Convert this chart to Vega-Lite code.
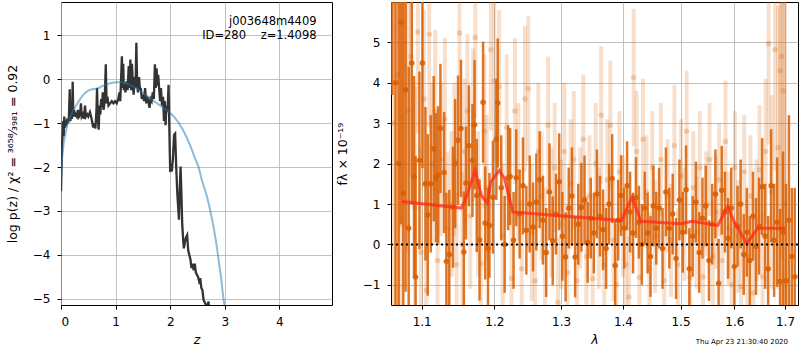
{
  "$schema": "https://vega.github.io/schema/vega-lite/v6.json",
  "background": "white",
  "padding": {"left": 5, "top": 1, "right": 0, "bottom": 0},
  "spacing": 59,
  "bounds": "flush",
  "config": {
    "font": "DejaVu Sans",
    "view": {"stroke": "black", "strokeWidth": 1},
    "axis": {
      "grid": true, "gridColor": "#b0b0b0", "gridWidth": 0.8, "domain": false,
      "tickColor": "black", "tickSize": 4, "labelPadding": 7,
      "labelFontSize": 12, "labelColor": "black",
      "titleFontSize": 12.5, "titleFontWeight": "normal", "titleColor": "black"
    }
  },
  "datasets": {
    "pz": [
      {"z": 0.000, "lp": -2.55}, {"z": 0.010, "lp": -2.0}, {"z": 0.020, "lp": -1.45}, {"z": 0.030, "lp": -1.25},
      {"z": 0.040, "lp": -0.95}, {"z": 0.050, "lp": -1.3}, {"z": 0.060, "lp": -0.85}, {"z": 0.075, "lp": -1.1},
      {"z": 0.090, "lp": -0.95}, {"z": 0.100, "lp": -1.05}, {"z": 0.115, "lp": -0.9}, {"z": 0.130, "lp": -1.0},
      {"z": 0.145, "lp": -0.85}, {"z": 0.160, "lp": -0.23}, {"z": 0.170, "lp": -0.95}, {"z": 0.185, "lp": -0.85},
      {"z": 0.200, "lp": -0.9}, {"z": 0.214, "lp": -0.06}, {"z": 0.225, "lp": -0.85}, {"z": 0.240, "lp": -0.7},
      {"z": 0.255, "lp": -0.85}, {"z": 0.270, "lp": -0.8}, {"z": 0.290, "lp": -0.85}, {"z": 0.310, "lp": -0.7},
      {"z": 0.330, "lp": -0.85}, {"z": 0.350, "lp": -0.8}, {"z": 0.365, "lp": -0.55}, {"z": 0.380, "lp": -0.85},
      {"z": 0.400, "lp": -0.8}, {"z": 0.420, "lp": -0.9}, {"z": 0.440, "lp": -0.6}, {"z": 0.455, "lp": -0.85},
      {"z": 0.480, "lp": -0.8}, {"z": 0.500, "lp": -0.85}, {"z": 0.530, "lp": -0.75}, {"z": 0.560, "lp": -0.9},
      {"z": 0.590, "lp": -1.1}, {"z": 0.610, "lp": -1.0}, {"z": 0.630, "lp": -1.12}, {"z": 0.650, "lp": -0.7},
      {"z": 0.660, "lp": -0.2}, {"z": 0.675, "lp": -0.9}, {"z": 0.690, "lp": -1.15}, {"z": 0.705, "lp": -0.6},
      {"z": 0.720, "lp": -0.8}, {"z": 0.735, "lp": -0.45}, {"z": 0.750, "lp": -0.65}, {"z": 0.765, "lp": -0.3},
      {"z": 0.780, "lp": -0.7}, {"z": 0.800, "lp": -0.5}, {"z": 0.820, "lp": 0.34}, {"z": 0.835, "lp": -0.55},
      {"z": 0.850, "lp": -0.4}, {"z": 0.870, "lp": -0.6}, {"z": 0.900, "lp": -0.55}, {"z": 0.930, "lp": -0.5},
      {"z": 0.960, "lp": -0.55}, {"z": 0.990, "lp": -0.5}, {"z": 1.020, "lp": -0.55}, {"z": 1.050, "lp": -0.45},
      {"z": 1.070, "lp": -0.3}, {"z": 1.085, "lp": -0.5}, {"z": 1.100, "lp": 0.0}, {"z": 1.115, "lp": 0.52},
      {"z": 1.125, "lp": -0.2}, {"z": 1.140, "lp": 0.35}, {"z": 1.150, "lp": -0.25}, {"z": 1.165, "lp": -0.1},
      {"z": 1.180, "lp": -0.3}, {"z": 1.200, "lp": -0.05}, {"z": 1.220, "lp": -0.25}, {"z": 1.240, "lp": 0.3},
      {"z": 1.255, "lp": -0.2}, {"z": 1.270, "lp": 0.45}, {"z": 1.285, "lp": -0.25}, {"z": 1.300, "lp": 0.35},
      {"z": 1.315, "lp": -0.1}, {"z": 1.330, "lp": -0.35}, {"z": 1.350, "lp": 0.05}, {"z": 1.365, "lp": -0.2},
      {"z": 1.380, "lp": 0.83}, {"z": 1.395, "lp": -0.15}, {"z": 1.410, "lp": -0.3}, {"z": 1.430, "lp": 0.05},
      {"z": 1.445, "lp": -0.25}, {"z": 1.460, "lp": -0.2}, {"z": 1.480, "lp": -0.45}, {"z": 1.500, "lp": -0.35},
      {"z": 1.520, "lp": -0.5}, {"z": 1.540, "lp": -0.2}, {"z": 1.560, "lp": -0.55}, {"z": 1.580, "lp": -0.4},
      {"z": 1.600, "lp": -0.5}, {"z": 1.620, "lp": -0.65}, {"z": 1.640, "lp": -0.45}, {"z": 1.660, "lp": -0.5},
      {"z": 1.680, "lp": -0.3}, {"z": 1.700, "lp": -0.45}, {"z": 1.720, "lp": 0.34}, {"z": 1.735, "lp": -0.2},
      {"z": 1.750, "lp": 0.25}, {"z": 1.765, "lp": -0.15}, {"z": 1.780, "lp": 0.1}, {"z": 1.800, "lp": -0.25},
      {"z": 1.815, "lp": -0.5}, {"z": 1.830, "lp": -0.2}, {"z": 1.850, "lp": -0.6}, {"z": 1.870, "lp": -0.4},
      {"z": 1.885, "lp": -0.95}, {"z": 1.900, "lp": -0.5}, {"z": 1.915, "lp": -1.05}, {"z": 1.930, "lp": -0.6},
      {"z": 1.950, "lp": -0.75}, {"z": 1.970, "lp": -0.13}, {"z": 1.985, "lp": -1.2}, {"z": 2.000, "lp": -2.11},
      {"z": 2.015, "lp": -2.05}, {"z": 2.030, "lp": -2.1}, {"z": 2.050, "lp": -1.8}, {"z": 2.070, "lp": -1.27},
      {"z": 2.090, "lp": -1.24}, {"z": 2.110, "lp": -2.0}, {"z": 2.130, "lp": -2.6}, {"z": 2.150, "lp": -3.0},
      {"z": 2.160, "lp": -3.2}, {"z": 2.175, "lp": -2.5}, {"z": 2.190, "lp": -1.99}, {"z": 2.205, "lp": -2.6},
      {"z": 2.220, "lp": -3.3}, {"z": 2.240, "lp": -3.7}, {"z": 2.250, "lp": -3.85}, {"z": 2.270, "lp": -3.7},
      {"z": 2.290, "lp": -3.6}, {"z": 2.310, "lp": -3.55}, {"z": 2.330, "lp": -3.9}, {"z": 2.350, "lp": -4.0},
      {"z": 2.370, "lp": -4.1}, {"z": 2.390, "lp": -4.3}, {"z": 2.410, "lp": -4.2}, {"z": 2.430, "lp": -4.35},
      {"z": 2.450, "lp": -4.2}, {"z": 2.470, "lp": -4.4}, {"z": 2.490, "lp": -4.45}, {"z": 2.510, "lp": -4.5},
      {"z": 2.530, "lp": -4.6}, {"z": 2.550, "lp": -4.53}, {"z": 2.570, "lp": -4.75}, {"z": 2.590, "lp": -4.8},
      {"z": 2.610, "lp": -5.02}, {"z": 2.640, "lp": -5.1}, {"z": 2.680, "lp": -5.2}, {"z": 2.700, "lp": -5.06},
      {"z": 2.720, "lp": -5.3}
    ],
    "prior": [
      {"z": 0.00, "lp": -2.34}, {"z": 0.02, "lp": -1.8}, {"z": 0.05, "lp": -1.45}, {"z": 0.08, "lp": -1.25},
      {"z": 0.12, "lp": -1.02}, {"z": 0.17, "lp": -0.85}, {"z": 0.23, "lp": -0.7}, {"z": 0.29, "lp": -0.57},
      {"z": 0.35, "lp": -0.45}, {"z": 0.42, "lp": -0.34}, {"z": 0.48, "lp": -0.27}, {"z": 0.54, "lp": -0.24},
      {"z": 0.62, "lp": -0.22}, {"z": 0.69, "lp": -0.2}, {"z": 0.75, "lp": -0.16}, {"z": 0.81, "lp": -0.13},
      {"z": 0.88, "lp": -0.1}, {"z": 0.94, "lp": -0.08}, {"z": 1.03, "lp": -0.07}, {"z": 1.12, "lp": -0.07},
      {"z": 1.21, "lp": -0.1}, {"z": 1.30, "lp": -0.15}, {"z": 1.39, "lp": -0.21}, {"z": 1.48, "lp": -0.29},
      {"z": 1.57, "lp": -0.38}, {"z": 1.67, "lp": -0.47}, {"z": 1.76, "lp": -0.55}, {"z": 1.85, "lp": -0.63},
      {"z": 1.93, "lp": -0.7}, {"z": 2.00, "lp": -0.77}, {"z": 2.08, "lp": -0.87}, {"z": 2.16, "lp": -1.0},
      {"z": 2.24, "lp": -1.17}, {"z": 2.31, "lp": -1.35}, {"z": 2.38, "lp": -1.55}, {"z": 2.46, "lp": -1.82},
      {"z": 2.52, "lp": -2.0}, {"z": 2.58, "lp": -2.3}, {"z": 2.63, "lp": -2.5}, {"z": 2.67, "lp": -2.66},
      {"z": 2.71, "lp": -2.86}, {"z": 2.76, "lp": -3.15}, {"z": 2.80, "lp": -3.4}, {"z": 2.84, "lp": -3.7},
      {"z": 2.89, "lp": -4.15}, {"z": 2.93, "lp": -4.5}, {"z": 2.97, "lp": -4.95}, {"z": 3.00, "lp": -5.2},
      {"z": 3.02, "lp": -5.45}
    ],
    "light": [
      {"w": 1.064, "f": 3.0, "e": 8}, {"w": 1.069, "f": 4.2, "e": 6}, {"w": 1.073, "f": 0.5, "e": 6},
      {"w": 1.078, "f": 4.4, "e": 4}, {"w": 1.082, "f": 3.3, "e": 3.5}, {"w": 1.086, "f": 4.65, "e": 3},
      {"w": 1.091, "f": 0.9, "e": 3}, {"w": 1.095, "f": 5.26, "e": 2.5}, {"w": 1.099, "f": -0.2, "e": 2.6},
      {"w": 1.103, "f": 3.6, "e": 2.2}, {"w": 1.106, "f": -1.14, "e": 2.2}, {"w": 1.110, "f": 5.2, "e": 2.3},
      {"w": 1.114, "f": 2.0, "e": 2.0}, {"w": 1.118, "f": 3.3, "e": 2.0}, {"w": 1.121, "f": -0.4, "e": 2.0},
      {"w": 1.126, "f": 2.1, "e": 1.9}, {"w": 1.131, "f": 3.1, "e": 2.0}, {"w": 1.135, "f": 0.4, "e": 1.9},
      {"w": 1.140, "f": 1.0, "e": 1.8}, {"w": 1.144, "f": 2.1, "e": 1.9}, {"w": 1.147, "f": -0.5, "e": 1.8},
      {"w": 1.151, "f": 5.23, "e": 2.2}, {"w": 1.155, "f": 0.0, "e": 1.8}, {"w": 1.158, "f": 2.3, "e": 1.8},
      {"w": 1.162, "f": 3.3, "e": 1.9}, {"w": 1.166, "f": 0.7, "e": 1.8}, {"w": 1.170, "f": 2.95, "e": 1.9},
      {"w": 1.173, "f": 5.12, "e": 2.0}, {"w": 1.177, "f": 1.0, "e": 1.8}, {"w": 1.181, "f": -0.47, "e": 1.8},
      {"w": 1.186, "f": 2.8, "e": 1.9}, {"w": 1.189, "f": 1.4, "e": 1.8}, {"w": 1.195, "f": 4.82, "e": 2.0},
      {"w": 1.200, "f": 4.05, "e": 2.0}, {"w": 1.207, "f": 3.9, "e": 1.9}, {"w": 1.212, "f": 0.2, "e": 1.8},
      {"w": 1.218, "f": 2.9, "e": 1.8}, {"w": 1.225, "f": -0.84, "e": 1.7}, {"w": 1.230, "f": 3.3, "e": 1.8},
      {"w": 1.235, "f": 1.8, "e": 1.7}, {"w": 1.240, "f": -0.6, "e": 1.7}, {"w": 1.245, "f": 3.6, "e": 1.8},
      {"w": 1.250, "f": 3.85, "e": 1.8}, {"w": 1.255, "f": 0.3, "e": 1.7}, {"w": 1.260, "f": -0.9, "e": 1.6},
      {"w": 1.265, "f": 2.3, "e": 1.7}, {"w": 1.270, "f": 1.2, "e": 1.6}, {"w": 1.275, "f": -0.2, "e": 1.6},
      {"w": 1.280, "f": 2.95, "e": 1.7}, {"w": 1.285, "f": 0.8, "e": 1.6}, {"w": 1.290, "f": 1.9, "e": 1.6},
      {"w": 1.295, "f": -1.43, "e": 1.6}, {"w": 1.300, "f": 0.5, "e": 1.6}, {"w": 1.305, "f": 2.3, "e": 1.7},
      {"w": 1.310, "f": -0.7, "e": 1.6}, {"w": 1.315, "f": 1.5, "e": 1.6}, {"w": 1.320, "f": 2.1, "e": 1.7},
      {"w": 1.325, "f": -0.9, "e": 1.6}, {"w": 1.330, "f": 0.9, "e": 1.5}, {"w": 1.335, "f": 2.6, "e": 1.6},
      {"w": 1.340, "f": -0.3, "e": 1.5}, {"w": 1.345, "f": 1.2, "e": 1.5}, {"w": 1.350, "f": -0.85, "e": 1.5},
      {"w": 1.355, "f": 2.0, "e": 1.5}, {"w": 1.360, "f": 0.4, "e": 1.5}, {"w": 1.364, "f": 3.2, "e": 1.7},
      {"w": 1.369, "f": -0.5, "e": 1.5}, {"w": 1.374, "f": 1.6, "e": 1.5}, {"w": 1.379, "f": 2.95, "e": 1.6},
      {"w": 1.384, "f": 0.1, "e": 1.5}, {"w": 1.389, "f": -1.0, "e": 1.5}, {"w": 1.394, "f": 1.8, "e": 1.5},
      {"w": 1.400, "f": 0.7, "e": 1.5}, {"w": 1.405, "f": -0.5, "e": 1.4}, {"w": 1.410, "f": -1.3, "e": 1.5},
      {"w": 1.418, "f": 4.13, "e": 1.7}, {"w": 1.423, "f": 2.3, "e": 1.5}, {"w": 1.428, "f": -0.82, "e": 1.4},
      {"w": 1.434, "f": 2.6, "e": 1.5}, {"w": 1.440, "f": 1.3, "e": 1.4}, {"w": 1.445, "f": -0.6, "e": 1.4},
      {"w": 1.450, "f": 1.9, "e": 1.4}, {"w": 1.455, "f": 0.2, "e": 1.4}, {"w": 1.465, "f": 2.1, "e": 1.4},
      {"w": 1.471, "f": -0.9, "e": 1.4}, {"w": 1.477, "f": 1.2, "e": 1.4}, {"w": 1.483, "f": 0.1, "e": 1.4},
      {"w": 1.489, "f": 2.45, "e": 1.5}, {"w": 1.495, "f": -0.5, "e": 1.4}, {"w": 1.501, "f": 1.7, "e": 1.4},
      {"w": 1.507, "f": 0.5, "e": 1.4}, {"w": 1.511, "f": 2.8, "e": 1.5}, {"w": 1.517, "f": -0.82, "e": 1.4},
      {"w": 1.523, "f": 1.4, "e": 1.4}, {"w": 1.529, "f": 0.3, "e": 1.4}, {"w": 1.535, "f": 1.9, "e": 1.4},
      {"w": 1.541, "f": -0.8, "e": 1.4}, {"w": 1.547, "f": 1.0, "e": 1.3}, {"w": 1.553, "f": 2.1, "e": 1.4},
      {"w": 1.559, "f": -0.3, "e": 1.4}, {"w": 1.565, "f": 0.8, "e": 1.4}, {"w": 1.571, "f": 1.6, "e": 1.4},
      {"w": 1.577, "f": -0.4, "e": 1.3}, {"w": 1.583, "f": 2.55, "e": 1.5}, {"w": 1.589, "f": 0.4, "e": 1.4},
      {"w": 1.595, "f": -1.0, "e": 1.4}, {"w": 1.601, "f": 1.9, "e": 1.4}, {"w": 1.607, "f": 0.2, "e": 1.4},
      {"w": 1.613, "f": -1.05, "e": 1.4}, {"w": 1.619, "f": 1.8, "e": 1.4}, {"w": 1.625, "f": -0.3, "e": 1.4},
      {"w": 1.631, "f": 1.2, "e": 1.5}, {"w": 1.637, "f": -1.2, "e": 1.5}, {"w": 1.643, "f": 0.6, "e": 1.5},
      {"w": 1.649, "f": 1.85, "e": 1.6}, {"w": 1.655, "f": -0.8, "e": 1.6}, {"w": 1.661, "f": 2.3, "e": 1.8},
      {"w": 1.667, "f": 4.97, "e": 2.5}, {"w": 1.673, "f": 1.3, "e": 2.4}, {"w": 1.680, "f": 4.82, "e": 3},
      {"w": 1.686, "f": 2.4, "e": 3.5}, {"w": 1.690, "f": 4.3, "e": 4}, {"w": 1.693, "f": 4.65, "e": 5},
      {"w": 1.696, "f": 3.8, "e": 6}, {"w": 1.700, "f": 1.0, "e": 7}
    ],
    "dark": [
      {"w": 1.062, "f": 8.0, "e": 4.3}, {"w": 1.066, "f": 4.0, "e": 7.0}, {"w": 1.070, "f": 2.0, "e": 7.5},
      {"w": 1.073, "f": 5.5, "e": 5.0}, {"w": 1.076, "f": 1.27, "e": 5.5}, {"w": 1.079, "f": 3.83, "e": 5.0},
      {"w": 1.083, "f": 0.4, "e": 4.0}, {"w": 1.087, "f": 4.49, "e": 3.5}, {"w": 1.090, "f": 1.67, "e": 2.5},
      {"w": 1.092, "f": -0.81, "e": 3.0}, {"w": 1.097, "f": 2.08, "e": 2.2}, {"w": 1.101, "f": 4.49, "e": 2.6},
      {"w": 1.105, "f": 1.50, "e": 1.9}, {"w": 1.108, "f": 0.73, "e": 2.0}, {"w": 1.112, "f": 1.50, "e": 1.7},
      {"w": 1.116, "f": 2.37, "e": 1.8}, {"w": 1.119, "f": 1.65, "e": 1.6}, {"w": 1.122, "f": 1.72, "e": 1.7},
      {"w": 1.125, "f": 2.87, "e": 1.6}, {"w": 1.130, "f": 1.78, "e": 1.5}, {"w": 1.133, "f": -0.42, "e": 1.7},
      {"w": 1.137, "f": -0.25, "e": 1.6}, {"w": 1.142, "f": 0.92, "e": 1.5}, {"w": 1.145, "f": 2.0, "e": 1.6},
      {"w": 1.149, "f": 2.58, "e": 1.6}, {"w": 1.153, "f": 2.87, "e": 1.7}, {"w": 1.157, "f": -0.19, "e": 1.5},
      {"w": 1.160, "f": 1.52, "e": 1.4}, {"w": 1.164, "f": 2.44, "e": 1.5}, {"w": 1.169, "f": 2.08, "e": 1.4},
      {"w": 1.172, "f": 2.96, "e": 1.6}, {"w": 1.175, "f": 1.21, "e": 1.4}, {"w": 1.179, "f": 0.11, "e": 1.5},
      {"w": 1.184, "f": 3.52, "e": 1.5}, {"w": 1.187, "f": 0.53, "e": 1.4}, {"w": 1.191, "f": -0.10, "e": 1.5},
      {"w": 1.193, "f": 0.47, "e": 1.3}, {"w": 1.198, "f": 1.17, "e": 1.4}, {"w": 1.203, "f": 2.60, "e": 1.5},
      {"w": 1.205, "f": 3.50, "e": 1.6}, {"w": 1.210, "f": 1.40, "e": 1.3}, {"w": 1.215, "f": 0.00, "e": 1.2},
      {"w": 1.220, "f": 1.65, "e": 1.3}, {"w": 1.223, "f": 1.68, "e": 1.2}, {"w": 1.228, "f": 0.10, "e": 1.2},
      {"w": 1.232, "f": 1.65, "e": 1.2}, {"w": 1.237, "f": 0.75, "e": 1.1}, {"w": 1.242, "f": 1.45, "e": 1.2},
      {"w": 1.247, "f": 0.35, "e": 1.1}, {"w": 1.252, "f": 1.0, "e": 1.2}, {"w": 1.257, "f": 0.43, "e": 1.1},
      {"w": 1.262, "f": 1.05, "e": 1.2}, {"w": 1.267, "f": 1.6, "e": 1.2}, {"w": 1.272, "f": 0.6, "e": 1.1},
      {"w": 1.277, "f": -0.2, "e": 1.1}, {"w": 1.282, "f": 1.3, "e": 1.2}, {"w": 1.287, "f": 0.09, "e": 1.1},
      {"w": 1.292, "f": 0.75, "e": 1.0}, {"w": 1.297, "f": 1.55, "e": 1.2}, {"w": 1.302, "f": 0.2, "e": 1.1},
      {"w": 1.307, "f": -0.31, "e": 1.1}, {"w": 1.312, "f": 0.9, "e": 1.0}, {"w": 1.317, "f": 1.2, "e": 1.2},
      {"w": 1.322, "f": -0.31, "e": 1.0}, {"w": 1.327, "f": 0.5, "e": 1.0}, {"w": 1.332, "f": 0.92, "e": 1.1},
      {"w": 1.337, "f": 1.1, "e": 1.1}, {"w": 1.342, "f": 0.05, "e": 1.0}, {"w": 1.347, "f": 0.65, "e": 1.0},
      {"w": 1.352, "f": 0.28, "e": 1.0}, {"w": 1.357, "f": 1.25, "e": 1.1}, {"w": 1.362, "f": 0.7, "e": 1.0},
      {"w": 1.367, "f": 0.36, "e": 1.0}, {"w": 1.372, "f": -0.1, "e": 1.0}, {"w": 1.377, "f": 1.0, "e": 1.0},
      {"w": 1.382, "f": 1.63, "e": 1.1}, {"w": 1.387, "f": -0.52, "e": 1.1}, {"w": 1.392, "f": 0.6, "e": 1.0},
      {"w": 1.397, "f": 1.21, "e": 1.0}, {"w": 1.402, "f": 0.4, "e": 1.0}, {"w": 1.407, "f": 1.45, "e": 1.1},
      {"w": 1.412, "f": 0.8, "e": 1.0}, {"w": 1.417, "f": 0.28, "e": 1.0}, {"w": 1.422, "f": 1.16, "e": 1.0},
      {"w": 1.427, "f": 0.55, "e": 0.9}, {"w": 1.432, "f": 0.0, "e": 1.0}, {"w": 1.437, "f": 0.9, "e": 0.9},
      {"w": 1.442, "f": 0.28, "e": 1.0}, {"w": 1.447, "f": -0.3, "e": 1.0}, {"w": 1.452, "f": 0.95, "e": 1.0},
      {"w": 1.457, "f": 0.4, "e": 0.9}, {"w": 1.462, "f": 0.9, "e": 1.0}, {"w": 1.468, "f": -0.1, "e": 1.0},
      {"w": 1.474, "f": 1.3, "e": 1.1}, {"w": 1.480, "f": 0.4, "e": 1.0}, {"w": 1.486, "f": 0.75, "e": 1.0},
      {"w": 1.492, "f": -0.35, "e": 1.0}, {"w": 1.498, "f": 1.1, "e": 1.0}, {"w": 1.504, "f": 0.3, "e": 1.0},
      {"w": 1.510, "f": 1.35, "e": 1.1}, {"w": 1.516, "f": -0.6, "e": 1.0}, {"w": 1.522, "f": 0.2, "e": 1.0},
      {"w": 1.528, "f": 1.05, "e": 1.0}, {"w": 1.534, "f": -0.2, "e": 1.0}, {"w": 1.540, "f": 0.65, "e": 1.0},
      {"w": 1.546, "f": 0.95, "e": 1.0}, {"w": 1.552, "f": -0.4, "e": 1.0}, {"w": 1.558, "f": 0.5, "e": 1.0},
      {"w": 1.564, "f": 1.25, "e": 1.1}, {"w": 1.570, "f": -0.96, "e": 1.1}, {"w": 1.576, "f": 1.34, "e": 1.1},
      {"w": 1.582, "f": 0.8, "e": 1.0}, {"w": 1.588, "f": 0.15, "e": 1.0}, {"w": 1.594, "f": 0.9, "e": 1.0},
      {"w": 1.600, "f": -0.55, "e": 1.1}, {"w": 1.606, "f": 0.45, "e": 1.0}, {"w": 1.612, "f": 1.0, "e": 1.1},
      {"w": 1.618, "f": -0.25, "e": 1.0}, {"w": 1.624, "f": 0.3, "e": 1.1}, {"w": 1.630, "f": -0.4, "e": 1.1},
      {"w": 1.636, "f": 0.7, "e": 1.1}, {"w": 1.642, "f": -0.05, "e": 1.2}, {"w": 1.648, "f": 0.45, "e": 1.2},
      {"w": 1.654, "f": 1.43, "e": 1.2}, {"w": 1.660, "f": 0.2, "e": 1.3}, {"w": 1.666, "f": -0.6, "e": 1.3},
      {"w": 1.672, "f": 1.45, "e": 1.4}, {"w": 1.678, "f": 0.1, "e": 1.4}, {"w": 1.684, "f": 0.55, "e": 1.6},
      {"w": 1.690, "f": -0.92, "e": 1.8}, {"w": 1.696, "f": 0.3, "e": 2.0}, {"w": 1.702, "f": -0.9, "e": 2.4},
      {"w": 1.708, "f": 0.6, "e": 2.6}, {"w": 1.714, "f": -0.3, "e": 1.7}, {"w": 1.720, "f": -0.8, "e": 2.2}
    ],
    "model": [
      {"w": 1.0744, "f": 1.06}, {"w": 1.1533, "f": 0.90}, {"w": 1.1577, "f": 1.04}, {"w": 1.1728, "f": 1.83},
      {"w": 1.1812, "f": 1.22}, {"w": 1.1900, "f": 1.02}, {"w": 1.1950, "f": 1.55}, {"w": 1.2072, "f": 1.83},
      {"w": 1.2150, "f": 1.62}, {"w": 1.2270, "f": 0.80}, {"w": 1.3975, "f": 0.59}, {"w": 1.4154, "f": 1.17},
      {"w": 1.4304, "f": 0.57}, {"w": 1.5000, "f": 0.51}, {"w": 1.5210, "f": 0.57}, {"w": 1.5685, "f": 0.47},
      {"w": 1.5870, "f": 0.94}, {"w": 1.6010, "f": 0.53}, {"w": 1.6240, "f": 0.02}, {"w": 1.6450, "f": 0.40},
      {"w": 1.7000, "f": 0.40}
    ]
  },
  "hconcat": [
    {
      "width": 271,
      "height": 303,
      "layer": [
        {
          "data": {"name": "pz"},
          "mark": {"type": "line", "color": "#333333", "strokeWidth": 2.3, "clip": true},
          "encoding": {
            "x": {"field": "z", "type": "quantitative", "scale": {"domain": [0, 4.963], "nice": false, "zero": false},
                  "axis": {"values": [0, 1, 2, 3, 4], "title": "z", "titleFontStyle": "italic", "titlePadding": 6}},
            "y": {"field": "lp", "type": "quantitative", "scale": {"domain": [-5.14, 1.757], "nice": false, "zero": false},
                  "axis": {"values": [-5, -4, -3, -2, -1, 0, 1], "title": "log p(z) / χ² = ³⁶⁵⁸⁄₃₉₈₁ = 0.92", "titlePadding": 13}}
          }
        },
        {
          "data": {"name": "prior"},
          "mark": {"type": "line", "color": "#1f77b4", "opacity": 0.5, "strokeWidth": 2, "clip": true},
          "encoding": {
            "x": {"field": "z", "type": "quantitative"},
            "y": {"field": "lp", "type": "quantitative"}
          }
        },
        {
          "data": {"values": [{}]},
          "mark": {"type": "text", "align": "right", "baseline": "middle", "fontSize": 11.5, "color": "black", "text": "j003648m4409"},
          "encoding": {"x": {"datum": 4.68}, "y": {"datum": 1.31}}
        },
        {
          "data": {"values": [{}]},
          "mark": {"type": "text", "align": "right", "baseline": "middle", "fontSize": 11.5, "color": "black", "text": "ID=280\u00a0\u00a0\u00a0\u00a0z=1.4098"},
          "encoding": {"x": {"datum": 4.68}, "y": {"datum": 0.98}}
        }
      ]
    },
    {
      "width": 407,
      "height": 303,
      "title": {"text": "Thu Apr 23 21:30:40 2020", "orient": "bottom", "anchor": "end", "fontSize": 7, "fontWeight": "normal", "color": "black", "dx": -11, "dy": -12},
      "layer": [
        {
          "data": {"name": "light"},
          "mark": {"type": "errorbar", "ticks": false, "thickness": 4, "color": "#d95f02", "opacity": 0.2, "clip": true},
          "encoding": {
            "x": {"field": "w", "type": "quantitative", "title": "λ", "scale": {"type": "log", "domain": [1.0603, 1.7267], "nice": false},
                  "axis": {"values": [1.1, 1.2, 1.3, 1.4, 1.5, 1.6, 1.7], "format": ".1f", "title": "λ", "titleFontStyle": "italic", "titlePadding": 6}},
            "y": {"field": "f", "type": "quantitative", "title": "fλ × 10⁻¹⁹", "scale": {"domain": [-1.5, 6.0], "nice": false, "zero": false},
                  "axis": {"values": [-1, 0, 1, 2, 3, 4, 5], "title": "fλ × 10⁻¹⁹", "titlePadding": 13}},
            "yError": {"field": "e"}
          }
        },
        {
          "data": {"name": "light"},
          "mark": {"type": "circle", "size": 30, "color": "#d95f02", "opacity": 0.25, "clip": true},
          "encoding": {
            "x": {"field": "w", "type": "quantitative", "title": "λ", "scale": {"type": "log", "domain": [1.0603, 1.7267], "nice": false}},
            "y": {"field": "f", "type": "quantitative", "title": "fλ × 10⁻¹⁹", "scale": {"domain": [-1.5, 6.0], "nice": false, "zero": false}}
          }
        },
        {
          "data": {"name": "dark"},
          "mark": {"type": "errorbar", "ticks": false, "thickness": 2.5, "color": "#d95f02", "opacity": 0.85, "clip": true},
          "encoding": {
            "x": {"field": "w", "type": "quantitative", "title": "λ", "scale": {"type": "log", "domain": [1.0603, 1.7267], "nice": false}},
            "y": {"field": "f", "type": "quantitative", "title": "fλ × 10⁻¹⁹", "scale": {"domain": [-1.5, 6.0], "nice": false, "zero": false}},
            "yError": {"field": "e"}
          }
        },
        {
          "data": {"name": "dark"},
          "mark": {"type": "circle", "size": 30, "color": "#d95f02", "opacity": 0.9, "clip": true},
          "encoding": {
            "x": {"field": "w", "type": "quantitative", "title": "λ", "scale": {"type": "log", "domain": [1.0603, 1.7267], "nice": false}},
            "y": {"field": "f", "type": "quantitative", "title": "fλ × 10⁻¹⁹", "scale": {"domain": [-1.5, 6.0], "nice": false, "zero": false}}
          }
        },
        {
          "data": {"name": "model"},
          "mark": {"type": "line", "color": "#ff2a1a", "opacity": 0.75, "strokeWidth": 3, "clip": true},
          "encoding": {
            "x": {"field": "w", "type": "quantitative", "title": "λ", "scale": {"type": "log", "domain": [1.0603, 1.7267], "nice": false}},
            "y": {"field": "f", "type": "quantitative", "title": "fλ × 10⁻¹⁹", "scale": {"domain": [-1.5, 6.0], "nice": false, "zero": false}}
          }
        },
        {
          "data": {"values": [{}]},
          "mark": {"type": "rule", "color": "black", "strokeWidth": 2, "strokeDash": [2, 3]},
          "encoding": {"y": {"datum": 0}}
        }
      ]
    }
  ]
}
